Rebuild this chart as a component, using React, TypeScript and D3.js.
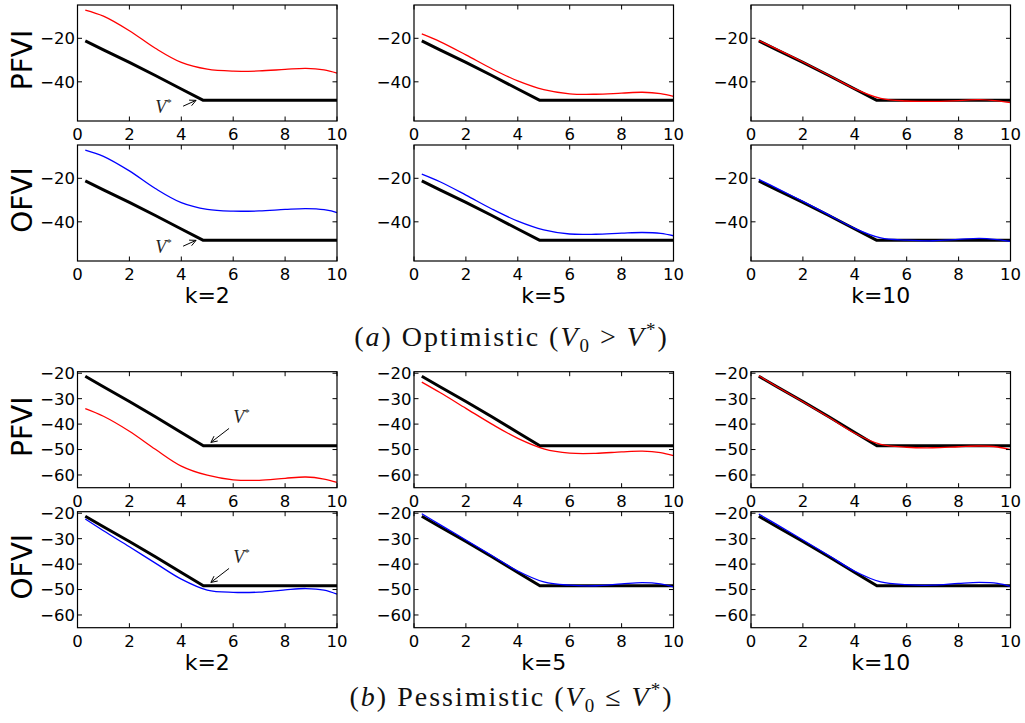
import React from 'react';
import * as d3 from 'd3';

// ---------- data ----------
const xGrid = [0.3, 1, 2, 3, 4, 5, 6, 7, 8, 8.8, 9.5, 10];
const vStarX = [0.3, 1, 2, 3, 4, 4.85, 10];
const vStarY = [-21.2, -25.3, -31.1, -37.1, -43.3, -48.5, -48.5];

const optPFVI_k2 = [-7.0, -9.8, -16.5, -24.6, -31.1, -34.2, -35.1, -35.0, -34.3, -33.8, -34.5, -36.0];
const optPFVI_k5 = [-18.0, -21.5, -27.6, -34.0, -39.6, -43.6, -45.5, -45.7, -45.2, -44.8, -45.4, -46.7];
const optPFVI_k10 = [-21.0, -25.0, -30.9, -37.0, -43.2, -47.6, -48.8, -49.0, -48.6, -48.2, -48.8, -49.6];
const optOFVI_k2 = [-7.0, -9.9, -16.6, -24.7, -31.2, -34.3, -35.1, -35.0, -34.3, -33.9, -34.4, -35.8];
const optOFVI_k5 = [-18.1, -21.6, -27.7, -34.1, -39.7, -43.7, -45.6, -45.7, -45.2, -44.9, -45.3, -46.4];
const optOFVI_k10 = [-20.5, -24.6, -30.6, -36.8, -43.0, -47.4, -48.4, -48.7, -48.1, -47.6, -48.2, -49.0];

const pesPFVI_k2 = [-33.9, -36.9, -42.8, -49.9, -56.5, -60.1, -61.9, -62.1, -61.3, -60.8, -61.6, -62.9];
const pesPFVI_k5 = [-23.5, -27.6, -33.8, -40.0, -45.6, -49.7, -51.4, -51.5, -50.9, -50.6, -51.2, -52.4];
const pesPFVI_k10 = [-21.0, -25.3, -31.2, -37.3, -43.6, -48.0, -49.1, -49.3, -48.9, -48.6, -49.0, -50.0];
const pesOFVI_k2 = [-22.3, -26.9, -33.2, -39.6, -45.9, -50.2, -51.1, -51.0, -50.1, -49.6, -50.2, -51.8];
const pesOFVI_k5 = [-20.2, -24.5, -30.5, -36.6, -42.7, -47.0, -48.3, -48.5, -47.8, -47.3, -47.8, -49.0];
const pesOFVI_k10 = [-20.3, -24.5, -30.5, -36.6, -42.8, -47.0, -48.1, -48.3, -47.6, -47.2, -47.6, -48.8];

const kLabels = ['k=2', 'k=5', 'k=10'];
const rowLabels = ['PFVI', 'OFVI', 'PFVI', 'OFVI'];
const xTicks = [0, 2, 4, 6, 8, 10];
const yTicksOpt = [-20, -40];
const yTicksPes = [-20, -30, -40, -50, -60];
const yDomainOpt = [-58, -4.7];
const yDomainPes = [-65, -19.4];

// annotation (data coords): text position, arrow start, arrow tip
const annotOpt = { text: [3.0, -54.4], from: [4.07, -51.2], to: [4.57, -48.5] };
const annotPes = { text: [6.0, -39.4], from: [5.84, -41.7], to: [5.14, -47.2] };

// ---------- layout ----------
const colLeft = [77.5, 414, 751];
const panelW = 259.5;
const rowTop = [5, 145, 371.7, 511.7];
const panelH = 116;

const TICK_FONT = 'DejaVu Sans, sans-serif';
const minus = (v: number) => (v < 0 ? '\u2212' + Math.abs(v) : String(v));

type PanelProps = {
  left: number;
  top: number;
  values: number[];
  color: string;
  yDomain: number[];
  yTicks: number[];
  annot?: { text: number[]; from: number[]; to: number[] } | null;
};

function Panel({ left, top, values, color, yDomain, yTicks, annot }: PanelProps) {
  const x = d3.scaleLinear().domain([0, 10]).range([left, left + panelW]);
  const y = d3.scaleLinear().domain(yDomain).range([top + panelH, top]);
  const black = d3
    .line<number>()
    .x((_, i) => x(vStarX[i]))
    .y((d) => y(d))
    .curve(d3.curveLinear)(vStarY);
  const col = d3
    .line<number>()
    .x((_, i) => x(xGrid[i]))
    .y((d) => y(d))
    .curve(d3.curveCatmullRom.alpha(0.5))(values);
  const tl = 4.5;
  const bottom = top + panelH;
  const right = left + panelW;
  let arrow: React.ReactNode = null;
  if (annot) {
    const fx = x(annot.from[0]), fy = y(annot.from[1]);
    const tx = x(annot.to[0]), ty = y(annot.to[1]);
    const ang = Math.atan2(ty - fy, tx - fx);
    const hl = 7, ha = 0.45;
    const h1 = [tx - hl * Math.cos(ang - ha), ty - hl * Math.sin(ang - ha)];
    const h2 = [tx - hl * Math.cos(ang + ha), ty - hl * Math.sin(ang + ha)];
    arrow = (
      <g>
        <path
          d={`M${fx},${fy}L${tx},${ty}M${h1[0]},${h1[1]}L${tx},${ty}L${h2[0]},${h2[1]}`}
          stroke="black"
          strokeWidth={1}
          fill="none"
        />
        <text
          x={x(annot.text[0])}
          y={y(annot.text[1])}
          fontFamily="Liberation Serif, serif"
          fontStyle="italic"
          fontSize={18}
          fill="#222"
        >
          V
          <tspan fontSize={11} dy={-7} fontStyle="normal">*</tspan>
        </text>
      </g>
    );
  }
  return (
    <g>
      <path d={black || ''} stroke="black" strokeWidth={3} fill="none" strokeLinejoin="round" />
      <path d={col || ''} stroke={color} strokeWidth={1.3} fill="none" />
      {arrow}
      <rect x={left} y={top} width={panelW} height={panelH} fill="none" stroke="black" strokeWidth={1.2} />
      {xTicks.map((t) => (
        <g key={'x' + t}>
          <line x1={x(t)} x2={x(t)} y1={bottom} y2={bottom - tl} stroke="black" />
          <line x1={x(t)} x2={x(t)} y1={top} y2={top + tl} stroke="black" />
          <text x={x(t)} y={bottom + 19} textAnchor="middle" fontFamily={TICK_FONT} fontSize={16.5} fill="black">
            {t}
          </text>
        </g>
      ))}
      {yTicks.map((t) => (
        <g key={'y' + t}>
          <line x1={left} x2={left + tl} y1={y(t)} y2={y(t)} stroke="black" />
          <line x1={right} x2={right - tl} y1={y(t)} y2={y(t)} stroke="black" />
          <text
            x={left - 2.5}
            y={y(t)}
            dy="0.36em"
            textAnchor="end"
            fontFamily={TICK_FONT}
            fontSize={16.5}
            fill="black"
          >
            {minus(t)}
          </text>
        </g>
      ))}
    </g>
  );
}

export default function App() {
  const rows = [
    { vals: [optPFVI_k2, optPFVI_k5, optPFVI_k10], color: '#ff0000', dom: yDomainOpt, ticks: yTicksOpt, annot: annotOpt },
    { vals: [optOFVI_k2, optOFVI_k5, optOFVI_k10], color: '#0000ff', dom: yDomainOpt, ticks: yTicksOpt, annot: annotOpt },
    { vals: [pesPFVI_k2, pesPFVI_k5, pesPFVI_k10], color: '#ff0000', dom: yDomainPes, ticks: yTicksPes, annot: annotPes },
    { vals: [pesOFVI_k2, pesOFVI_k5, pesOFVI_k10], color: '#0000ff', dom: yDomainPes, ticks: yTicksPes, annot: annotPes },
  ];
  return (
    <svg width={1025} height={723} style={{ position: 'absolute', left: 0, top: 0, background: 'white' }}>
      <rect x={0} y={0} width={1025} height={723} fill="white" />
      {rows.map((r, ri) =>
        r.vals.map((v, ci) => (
          <Panel
            key={ri + '-' + ci}
            left={colLeft[ci]}
            top={rowTop[ri]}
            values={v}
            color={r.color}
            yDomain={r.dom}
            yTicks={r.ticks}
            annot={ci === 0 ? r.annot : null}
          />
        ))
      )}
      {rowLabels.map((lab, ri) => (
        <text
          key={'rl' + ri}
          transform={`translate(32,${rowTop[ri] + panelH / 2 - 3}) rotate(-90)`}
          textAnchor="middle"
          fontFamily={TICK_FONT}
          fontSize={28}
          fill="black"
        >
          {lab}
        </text>
      ))}
      {[1, 3].map((ri) =>
        kLabels.map((k, ci) => (
          <text
            key={'k' + ri + ci}
            x={colLeft[ci] + panelW / 2}
            y={rowTop[ri] + panelH + 42}
            textAnchor="middle"
            fontFamily={TICK_FONT}
            fontSize={22}
            fill="black"
          >
            {k}
          </text>
        ))
      )}
      <text x={511.5} y={346} textAnchor="middle" fontFamily="Liberation Serif, serif" fontSize={28} letterSpacing={2} fill="#111">
        (<tspan fontStyle="italic">a</tspan>) Optimistic (<tspan fontStyle="italic">V</tspan>
        <tspan fontSize={19} dy={6}>0</tspan>
        <tspan dy={-6}> &gt; </tspan>
        <tspan fontStyle="italic">V</tspan>
        <tspan fontSize={19} dy={-10}>*</tspan>
        <tspan dy={10}>)</tspan>
      </text>
      <text x={511.5} y={706} textAnchor="middle" fontFamily="Liberation Serif, serif" fontSize={28} letterSpacing={2} fill="#111">
        (<tspan fontStyle="italic">b</tspan>) Pessimistic (<tspan fontStyle="italic">V</tspan>
        <tspan fontSize={19} dy={6}>0</tspan>
        <tspan dy={-6}> ≤ </tspan>
        <tspan fontStyle="italic">V</tspan>
        <tspan fontSize={19} dy={-10}>*</tspan>
        <tspan dy={10}>)</tspan>
      </text>
    </svg>
  );
}
